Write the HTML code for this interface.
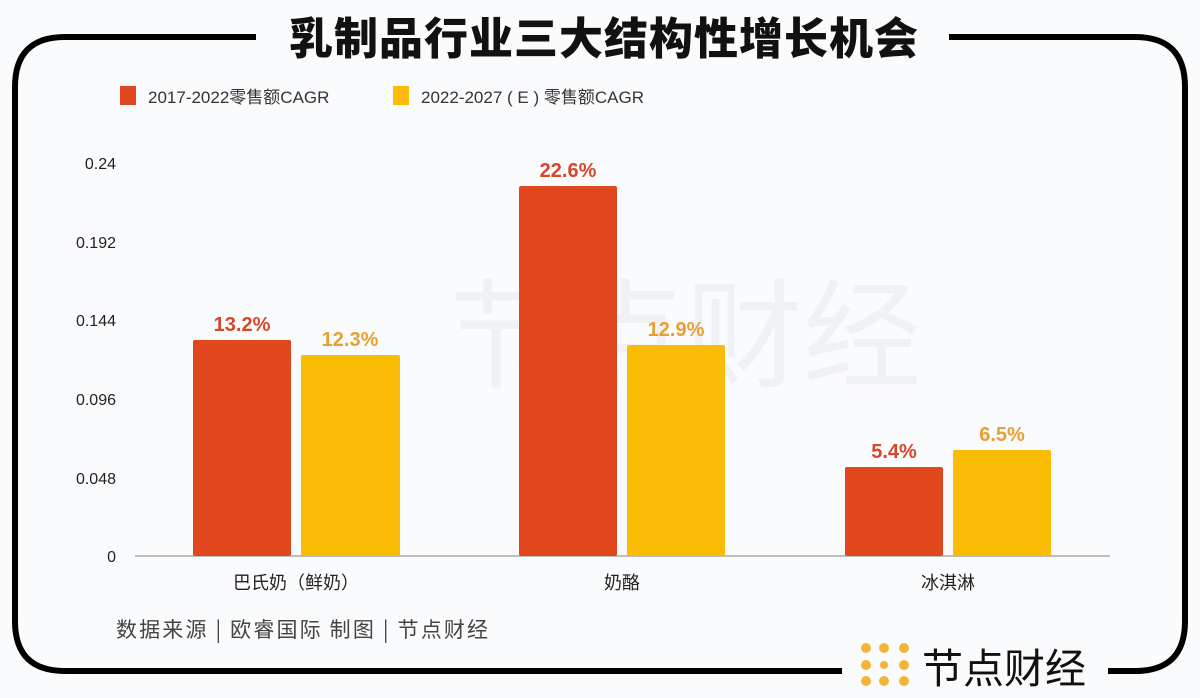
<!DOCTYPE html>
<html><head><meta charset="utf-8"><style>
body{margin:0;width:1200px;height:698px;background:#fafbfd;overflow:hidden;font-family:"Liberation Sans","Noto Sans CJK SC",sans-serif;}
</style></head><body>
<svg width="1200" height="698" xmlns="http://www.w3.org/2000/svg" style="position:absolute;left:0;top:0">
<rect width="1200" height="698" fill="#fafbfd"/>
<path d="M256 37 H65 Q15 37 15 87 V621 Q15 671 65 671 H842" fill="none" stroke="#000" stroke-width="6"/>
<path d="M949 37 H1135 Q1185 37 1185 87 V621 Q1185 671 1135 671 H1108" fill="none" stroke="#000" stroke-width="6"/>
<text x="604" y="54" text-anchor="middle" font-size="44" font-weight="900" fill="#111" font-family="Noto Sans CJK SC, sans-serif" style="letter-spacing:1px">乳制品行业三大结构性增长机会</text>
<text x="685" y="378" text-anchor="middle" font-size="118" fill="#f0f1f4" font-family="Noto Sans CJK SC, sans-serif">节点财经</text>
<rect x="120" y="86" width="16" height="19" fill="#e0471c"/>
<text x="148" y="103" font-size="17" fill="#333" font-family="Liberation Sans, Noto Sans CJK SC, sans-serif">2017-2022零售额CAGR</text>
<rect x="393" y="86" width="16" height="19" fill="#fbbc05"/>
<text x="421" y="103" font-size="17" fill="#333" font-family="Liberation Sans, Noto Sans CJK SC, sans-serif">2022-2027 ( E ) 零售额CAGR</text>
<g font-size="16" fill="#222" text-anchor="end">
<text x="116" y="169">0.24</text><text x="116" y="248">0.192</text><text x="116" y="326">0.144</text>
<text x="116" y="405">0.096</text><text x="116" y="484">0.048</text><text x="116" y="562">0</text>
</g>
<line x1="135" y1="556" x2="1110" y2="556" stroke="#aaa" stroke-width="1.5"/>
<rect x="193" y="340" width="98" height="216" rx="2" fill="#e0471c"/>
<rect x="301" y="355" width="99" height="201" rx="2" fill="#fbbc05"/>
<rect x="519" y="186" width="98" height="370" rx="2" fill="#e0471c"/>
<rect x="627" y="345" width="98" height="211" rx="2" fill="#fbbc05"/>
<rect x="845" y="467" width="98" height="89" rx="2" fill="#e0471c"/>
<rect x="953" y="450" width="98" height="106" rx="2" fill="#fbbc05"/>
<g font-size="20" font-weight="bold" text-anchor="middle">
<text x="242" y="331" fill="#d9462a">13.2%</text><text x="350" y="346" fill="#e8a033">12.3%</text>
<text x="568" y="177" fill="#d9462a">22.6%</text><text x="676" y="336" fill="#e8a033">12.9%</text>
<text x="894" y="458" fill="#d9462a">5.4%</text><text x="1002" y="441" fill="#e8a033">6.5%</text>
</g>
<g font-size="18" fill="#222" text-anchor="middle" font-family="Liberation Sans, Noto Sans CJK SC, sans-serif">
<text x="296" y="589">巴氏奶（鲜奶）</text><text x="622" y="589">奶酪</text><text x="948" y="589">冰淇淋</text>
</g>
<text x="116" y="637" font-size="21" fill="#444" font-family="Noto Sans CJK SC, sans-serif" textLength="372" lengthAdjust="spacing">数据来源 | 欧睿国际  制图 | 节点财经</text>
<g fill="#f2b53a">
<circle cx="866" cy="648" r="5"/><circle cx="884" cy="648" r="5"/><circle cx="904" cy="648" r="5"/>
<circle cx="866" cy="665" r="5"/><circle cx="904" cy="665" r="5"/>
<circle cx="866" cy="681" r="5"/><circle cx="884" cy="681" r="5"/><circle cx="904" cy="681" r="5"/>
<circle cx="884" cy="665" r="4"/>
</g>
<text x="922" y="683" font-size="41" fill="#111" font-family="Noto Sans CJK SC, sans-serif">节点财经</text>
</svg>
</body></html>
